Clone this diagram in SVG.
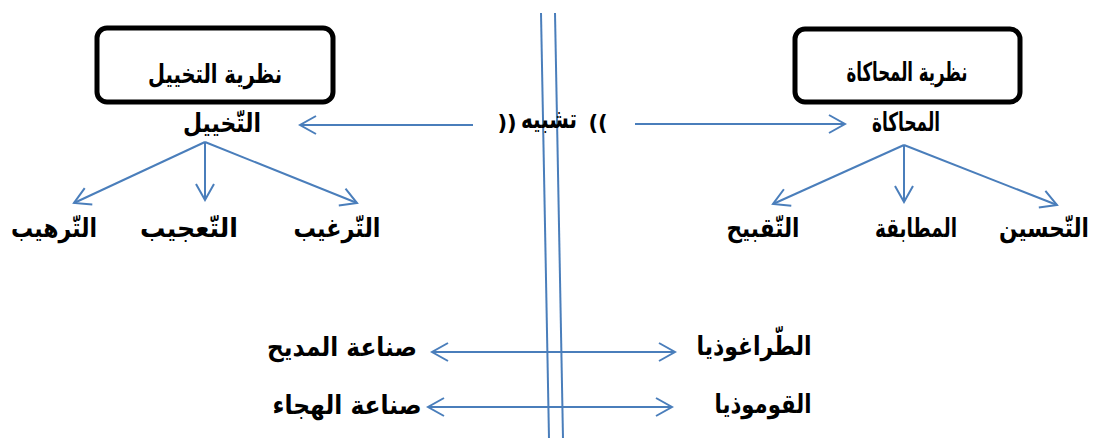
<svg xmlns="http://www.w3.org/2000/svg" width="1095" height="438" viewBox="0 0 1095 438">
<defs>
<style>
.t{font-family:"DejaVu Sans",sans-serif;font-weight:bold;font-size:26px;fill:#000;text-anchor:middle;direction:rtl}
.p{font-family:"DejaVu Sans",sans-serif;font-weight:bold;font-size:21px;fill:#000;text-anchor:middle}
.box{fill:#fff;stroke:#000;stroke-width:5}
.c{stroke:#4a7ebb;stroke-width:2;fill:none}
</style>
<marker id="ah" viewBox="-18 -12 20 24" refX="0" refY="0" markerWidth="20" markerHeight="24" markerUnits="userSpaceOnUse" orient="auto-start-reverse">
<path d="M-16,-9 L0,0 L-16,9" fill="none" stroke="#4a7ebb" stroke-width="2"/>
</marker>
</defs>
<rect width="1095" height="438" fill="#fff"/>
<g id="connectors">
<line class="c" x1="541" y1="13" x2="549" y2="438"/>
<line class="c" x1="555" y1="13" x2="563" y2="438"/>
<line class="c" x1="473" y1="125" x2="300" y2="125" marker-end="url(#ah)"/>
<line class="c" x1="635" y1="124" x2="845" y2="124" marker-end="url(#ah)"/>
<line class="c" x1="205" y1="142" x2="74" y2="203" marker-end="url(#ah)"/>
<line class="c" x1="205" y1="142" x2="205" y2="200" marker-end="url(#ah)"/>
<line class="c" x1="205" y1="142" x2="357" y2="203" marker-end="url(#ah)"/>
<line class="c" x1="904" y1="145" x2="773" y2="204" marker-end="url(#ah)"/>
<line class="c" x1="904" y1="145" x2="904" y2="202" marker-end="url(#ah)"/>
<line class="c" x1="904" y1="145" x2="1057" y2="205" marker-end="url(#ah)"/>
<line class="c" x1="432" y1="352" x2="675" y2="352" marker-start="url(#ah)" marker-end="url(#ah)"/>
<line class="c" x1="428" y1="407" x2="672" y2="407" marker-start="url(#ah)" marker-end="url(#ah)"/>
</g>
<g id="box-takhyeel">
<rect class="box" x="97" y="28" width="236" height="74" rx="10"/>
<text class="t" x="215" y="83" textLength="134" lengthAdjust="spacingAndGlyphs">نظرية التخييل</text>
</g>
<g id="box-muhakat">
<rect class="box" x="795" y="29" width="225" height="73" rx="10"/>
<text class="t" x="907" y="81" textLength="121" lengthAdjust="spacingAndGlyphs">نظرية المحاكاة</text>
</g>
<g id="takhyeel"><text class="t" x="222" y="132" textLength="78" lengthAdjust="spacingAndGlyphs">التّخييل</text></g>
<g id="muhakat"><text class="t" x="906" y="131" textLength="68" lengthAdjust="spacingAndGlyphs">المحاكاة</text></g>
<g id="tashbih">
<text class="p" x="507" y="130">))</text>
<text class="t" x="549" y="128" textLength="56" lengthAdjust="spacingAndGlyphs">تشبيه</text>
<text class="p" x="598" y="130">((</text>
</g>
<g id="tarheeb"><text class="t" x="54" y="237" textLength="86" lengthAdjust="spacingAndGlyphs">التّرهيب</text></g>
<g id="taajeeb"><text class="t" x="189" y="237" textLength="98" lengthAdjust="spacingAndGlyphs">التّعجيب</text></g>
<g id="targheeb"><text class="t" x="337" y="237" textLength="87" lengthAdjust="spacingAndGlyphs">التّرغيب</text></g>
<g id="taqbeeh"><text class="t" x="763" y="237" textLength="73" lengthAdjust="spacingAndGlyphs">التّقبيح</text></g>
<g id="mutabaqa"><text class="t" x="916" y="237" textLength="82" lengthAdjust="spacingAndGlyphs">المطابقة</text></g>
<g id="tahseen"><text class="t" x="1044" y="237" textLength="90" lengthAdjust="spacingAndGlyphs">التّحسين</text></g>
<g id="tragedy"><text class="t" x="754" y="355" textLength="115" lengthAdjust="spacingAndGlyphs">الطّراغوذيا</text></g>
<g id="madeeh"><text class="t" x="342" y="356" textLength="150" lengthAdjust="spacingAndGlyphs">صناعة المديح</text></g>
<g id="comedy"><text class="t" x="763" y="413" textLength="97" lengthAdjust="spacingAndGlyphs">القوموذيا</text></g>
<g id="hijaa"><text class="t" x="347" y="414" textLength="149" lengthAdjust="spacingAndGlyphs">صناعة الهجاء</text></g>
</svg>
